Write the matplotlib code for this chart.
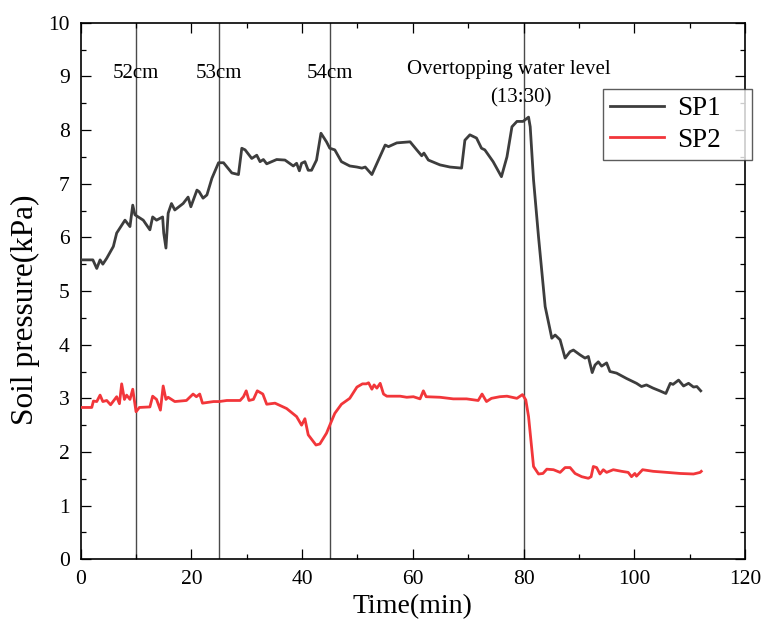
import matplotlib
matplotlib.use("Agg")
import matplotlib.pyplot as plt
from matplotlib.ticker import MultipleLocator

# SP1 readings (time in min, soil pressure in kPa)
t1 = [0, 2.2, 2.9, 3.5, 4.0, 4.7, 5.9, 6.5, 8.0, 8.9, 9.4, 9.8, 11.3, 12.5, 13.0,
      13.7, 14.8, 15.0, 15.4, 15.8, 16.4, 17.0, 18.5, 19.4, 19.9, 21.0, 21.4, 22.1,
      22.8, 23.7, 24.9, 25.8, 27.3, 28.5, 29.1, 29.7, 30.9, 31.8, 32.4, 33.0, 33.6,
      35.4, 36.9, 38.4, 39.0, 39.5, 39.9, 40.5, 41.1, 41.7, 42.6, 43.4, 44.4, 45.0,
      45.9, 47.1, 48.6, 49.9, 50.8, 51.4, 52.6, 55.0, 55.6, 57.1, 59.5, 60.7, 61.6,
      62.0, 62.8, 64.9, 66.7, 68.8, 69.4, 70.3, 71.5, 72.4, 73.0, 74.5, 76.0, 77.0,
      77.9, 78.8, 79.9, 80.9, 81.2, 81.8, 82.7, 83.9, 84.8, 85.1, 85.7, 86.6, 87.5,
      88.4, 89.0, 90.2, 91.1, 91.7, 92.0, 92.4, 92.9, 93.5, 94.1, 95.0, 95.6, 96.8,
      98.6, 100.4, 101.3, 102.2, 103.4, 104.6, 105.7, 106.5, 107.0, 108.0, 108.9,
      109.8, 110.7, 111.3, 112.0]
sp1 = [5.58, 5.58, 5.42, 5.58, 5.50, 5.61, 5.83, 6.08, 6.32, 6.20, 6.60, 6.42, 6.32, 6.14, 6.38,
       6.32, 6.38, 6.08, 5.80, 6.45, 6.63, 6.51, 6.63, 6.75, 6.57, 6.88, 6.85, 6.73,
       6.79, 7.10, 7.39, 7.39, 7.20, 7.17, 7.66, 7.63, 7.47, 7.53, 7.41, 7.45, 7.37,
       7.45, 7.44, 7.33, 7.38, 7.24, 7.38, 7.41, 7.25, 7.25, 7.44, 7.94, 7.78, 7.66,
       7.63, 7.41, 7.33, 7.31, 7.29, 7.31, 7.17, 7.72, 7.69, 7.76, 7.78, 7.63, 7.52,
       7.57, 7.44, 7.35, 7.31, 7.29, 7.81, 7.91, 7.85, 7.66, 7.63, 7.41, 7.13, 7.50,
       8.06, 8.16, 8.16, 8.24, 8.06, 7.07, 6.01, 4.71, 4.27, 4.12, 4.18, 4.09, 3.75,
       3.87, 3.90, 3.81, 3.75, 3.78, 3.65, 3.48, 3.62, 3.68, 3.60, 3.66, 3.50, 3.47,
       3.37, 3.28, 3.22, 3.25, 3.19, 3.14, 3.09, 3.28, 3.26, 3.34, 3.23,
       3.28, 3.21, 3.22, 3.14]

# SP2 readings
t2 = [0, 2.0, 2.3, 2.9, 3.5, 4.0, 4.7, 5.4, 6.5, 7.0, 7.4, 7.9, 8.3, 8.9, 9.4, 9.7,
      10.0, 10.6, 12.5, 13.0, 13.7, 14.4, 14.9, 15.4, 15.8, 17.0, 19.1, 20.3, 20.9,
      21.5, 22.0, 24.0, 25.0, 26.4, 28.8, 29.4, 29.9, 30.4, 31.2, 31.9, 32.9, 33.6,
      35.1, 37.2, 39.0, 39.9, 40.5, 41.1, 42.5, 43.2, 44.4, 45.0, 45.9, 47.1, 48.6,
      49.9, 50.9, 51.6, 52.0, 52.6, 53.0, 53.5, 54.1, 54.7, 55.3, 57.7, 58.9, 60.1,
      61.3, 61.9, 62.4, 64.9, 67.3, 69.7, 71.8, 72.5, 73.3, 74.2, 75.7, 77.0, 78.8,
      79.8, 80.4, 80.9, 81.5, 81.8, 82.7, 83.5, 84.2, 85.4, 86.6, 87.5, 88.4, 89.3,
      90.5, 91.7, 92.2, 92.6, 93.2, 93.8, 94.4, 95.0, 96.2, 97.7, 98.9, 99.5, 100.1,
      100.4, 101.5, 103.4, 105.9, 108.3, 110.7, 111.9, 112.1]
sp2 = [2.83, 2.83, 2.95, 2.94, 3.06, 2.94, 2.96, 2.88, 3.03, 2.90, 3.27, 2.98, 3.06, 2.98, 3.17, 2.96,
       2.75, 2.83, 2.84, 3.04, 2.98, 2.78, 3.23, 2.98, 3.02, 2.94, 2.96, 3.08, 3.03,
       3.08, 2.91, 2.94, 2.94, 2.96, 2.96, 3.03, 3.14, 2.96, 2.98, 3.14, 3.08, 2.89,
       2.91, 2.81, 2.66, 2.50, 2.62, 2.32, 2.13, 2.15, 2.35, 2.50, 2.72, 2.89, 3.00,
       3.21, 3.27, 3.27, 3.29, 3.17, 3.25, 3.19, 3.28, 3.08, 3.04, 3.04, 3.02, 3.03,
       2.99, 3.14, 3.03, 3.02, 2.99, 2.99, 2.96, 3.08, 2.94, 3.00, 3.03, 3.04, 3.00,
       3.07, 2.97, 2.66, 2.04, 1.73, 1.59, 1.60, 1.68, 1.67, 1.62, 1.71, 1.71, 1.60,
       1.54, 1.51, 1.54, 1.73, 1.71, 1.59, 1.67, 1.62, 1.67, 1.64, 1.62, 1.54, 1.60,
       1.55, 1.67, 1.64, 1.62, 1.60, 1.59, 1.62, 1.64]

# water level marks
mark_times = [10, 25, 45, 80]
mark_labels = ["52cm", "53cm", "54cm", "Overtopping water level"]

plt.rcParams['font.family'] = ['Liberation Serif', 'DejaVu Serif']

fig = plt.figure(figsize=(7.62, 6.23), dpi=100)
ax = fig.add_axes([0.1059, 0.1022, 0.8718, 0.8614])

for t in mark_times:
    ax.axvline(t, color='#4a4a4a', lw=1.0, zorder=1)

ax.plot(t1, sp1, color='#3d3d3d', lw=2.0, label='SP1', zorder=3)
ax.plot(t2, sp2, color='#f2363a', lw=2.0, label='SP2', zorder=3)

for t, lab in zip(mark_times[:3], mark_labels[:3]):
    ax.text(t, 9.05, lab, ha='center', va='center', fontsize=15)
ax.text(77.4, 9.12, mark_labels[3], ha='center', va='center', fontsize=15)
ax.text(79.5, 8.6, "(13:30)", ha='center', va='center', fontsize=15)

ax.set_xlim(0, 120)
ax.set_ylim(0, 10)
ax.xaxis.set_major_locator(MultipleLocator(20))
ax.xaxis.set_minor_locator(MultipleLocator(10))
ax.yaxis.set_major_locator(MultipleLocator(1))
ax.yaxis.set_minor_locator(MultipleLocator(0.5))
ax.tick_params(which='both', direction='in', top=True, right=True, width=0.9)
ax.tick_params(which='major', length=7, labelsize=15.5)
ax.tick_params(which='minor', length=3.8)
ax.tick_params(axis='x', which='major', pad=8)
ax.tick_params(axis='y', which='major', pad=8)
for s in ax.spines.values():
    s.set_linewidth(1.2)

ax.set_xlabel('Time(min)', fontsize=20, labelpad=3)
ax.set_ylabel('Soil pressure(kPa)', fontsize=22.5)
ax.yaxis.set_label_coords(-0.062, 0.465)

leg = ax.legend(loc='upper left', bbox_to_anchor=(0.786, 0.739, 0.2245, 0.137),
                mode='expand', fontsize=19.5, frameon=True, fancybox=False,
                handlelength=2.0, handletextpad=0.5, borderpad=0.25,
                labelspacing=0.25, borderaxespad=0)
leg.get_frame().set_edgecolor('#333333')
leg.get_frame().set_linewidth(1.0)

fig.savefig('out.png', dpi=100)
